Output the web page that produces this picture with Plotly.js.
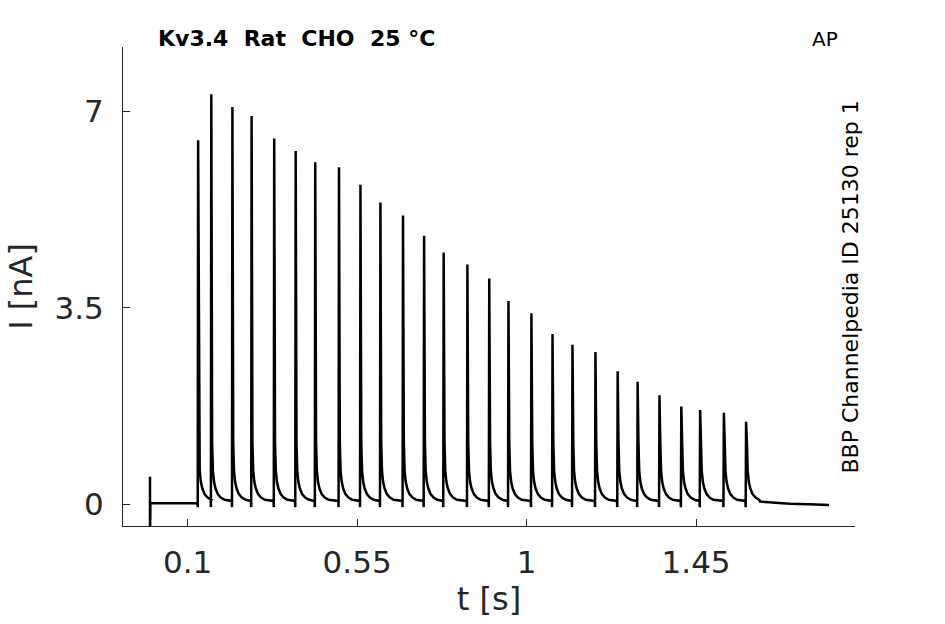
<!DOCTYPE html>
<html>
<head>
<meta charset="utf-8">
<script src="https://cdn.plot.ly/plotly-3.0.1.min.js"></script>
<style>
  html, body { margin: 0; padding: 0; background: #fff; }
  #chart { width: 945px; height: 624px; }
</style>
</head>
<body>
<div id="chart"></div>
<script>
  "use strict";

  const FONT = "DejaVu Sans, sans-serif";
  const INK = "#262626";

  // Spike onset times (s) and peak currents (nA).
  const spikeTimes = [
    0.127, 0.162, 0.218, 0.269, 0.329, 0.386, 0.438, 0.501, 0.558,
    0.611, 0.671, 0.727, 0.779, 0.842, 0.900, 0.951, 1.012, 1.068,
    1.121, 1.182, 1.241, 1.294, 1.352, 1.410, 1.460, 1.523, 1.582,
  ];
  const spikePeaks = [
    6.48, 7.30, 7.07, 6.91, 6.51, 6.29, 6.09, 6.00, 5.69,
    5.37, 5.14, 4.78, 4.48, 4.27, 4.02, 3.62, 3.40, 3.03,
    2.84, 2.71, 2.37, 2.18, 1.94, 1.74, 1.68, 1.63, 1.47,
  ];

  // Shape of one response after its peak: offsets (s) and current (nA).
  const decayOffsets = [0.003, 0.005, 0.008, 0.012, 0.018, 0.026, 0.036];
  const decayValues = [1.10, 0.60, 0.40, 0.28, 0.18, 0.12, 0.08];
  const interSpikeLevel = 0.06;

  // Start of the record: stimulus artifact, then holding level.
  const startTimes = [0, 0, 0.001];
  const startValues = [0.49, -0.70, 0.02];
  const holdLevel = 0.02;

  // End of the record after the last response.
  const tailTimes = [1.62, 1.66, 1.70, 1.75, 1.803];
  const tailValues = [0.05, 0.03, 0.01, 0.00, -0.01];

  function buildTrace() {
    const x = startTimes.slice();
    const y = startValues.slice();
    spikeTimes.forEach((t0, i) => {
      const before = i === 0 ? holdLevel : interSpikeLevel;
      x.push(t0 - 0.001, t0 - 0.0003, t0 + 0.0008);
      y.push(before, -0.05, spikePeaks[i]);
      decayOffsets.forEach((dt, k) => { x.push(t0 + dt); y.push(decayValues[k]); });
      const next = spikeTimes[i + 1];
      if (next !== undefined) { x.push(next - 0.002); y.push(interSpikeLevel); }
    });
    tailTimes.forEach((t, k) => { x.push(t); y.push(tailValues[k]); });
    return { x, y };
  }

  const xTicks = [0.1, 0.55, 1, 1.45];
  const xTickText = ["0.1", "0.55", "1", "1.45"];
  const yTicks = [0, 3.5, 7];
  const yTickText = ["0", "3.5", "7"];

  const tr = buildTrace();
  const traces = [{
    type: "scatter", mode: "lines", x: tr.x, y: tr.y,
    line: { color: "#000", width: 2.5 }, hoverinfo: "skip", cliponaxis: true,
  }];

  const axisCommon = {
    showgrid: false, zeroline: false, showline: true, linecolor: INK, linewidth: 1,
    ticks: "inside", ticklen: 7, tickwidth: 1, tickcolor: INK,
    tickfont: { family: FONT, size: 31, color: INK }, mirror: false,
  };

  const lay = {
    width: 945, height: 624,
    paper_bgcolor: "#fff", plot_bgcolor: "#fff",
    margin: { l: 123, r: 90, t: 47, b: 98 },
    showlegend: false,
    font: { family: FONT, color: INK },
    xaxis: Object.assign({}, axisCommon, {
      range: [-0.0717, 1.872], tickmode: "array", tickvals: xTicks, ticktext: xTickText,
      ticklabelstandoff: 9,
      title: { text: "t [s]", font: { family: FONT, size: 32, color: INK }, standoff: 6 },
    }),
    yaxis: Object.assign({}, axisCommon, {
      range: [-0.386, 8.14], tickmode: "array", tickvals: yTicks, ticktext: yTickText,
      ticklabelstandoff: 12,
      title: { text: "I [nA]", font: { family: FONT, size: 32, color: INK }, standoff: 12 },
    }),
    annotations: [
      {
        text: "<b>Kv3.4  Rat  CHO  25 °C</b>", xref: "paper", yref: "paper",
        x: (156 - 123) / 732, y: 1, xanchor: "left", yanchor: "bottom", yshift: -6,
        showarrow: false, font: { family: FONT, size: 22, color: "#000" },
      },
      {
        text: "AP", xref: "paper", yref: "paper",
        x: (825 - 123) / 732, y: 1, xanchor: "center", yanchor: "bottom", yshift: -6,
        showarrow: false, font: { family: FONT, size: 20, color: "#000" },
      },
      {
        text: "BBP Channelpedia ID 25130 rep 1", xref: "paper", yref: "paper",
        x: (850 - 123) / 732, y: (526 - 287.5) / 479, xanchor: "center", yanchor: "middle",
        textangle: -90, showarrow: false, font: { family: FONT, size: 22, color: "#000" },
      },
    ],
  };

  Plotly.newPlot("chart", traces, lay, { displayModeBar: false, staticPlot: true });
</script>
</body>
</html>
